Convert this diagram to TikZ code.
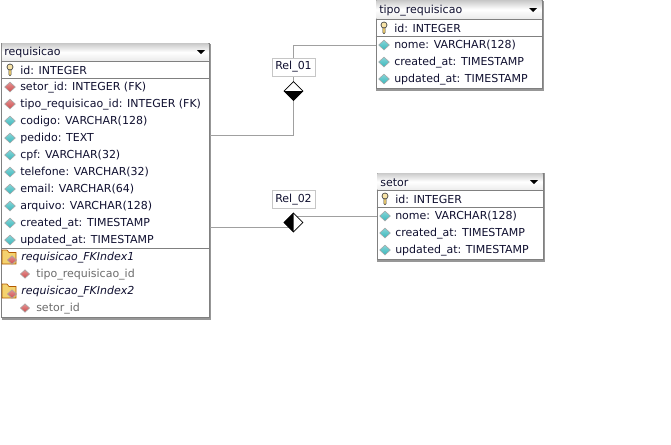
\documentclass[tikz,border=0pt]{standalone}
\usepackage{fontspec}
\setmainfont{DejaVu Sans}
\usepackage{xcolor}
\usepackage{tikz}
\usetikzlibrary{shapes.geometric, positioning}
\definecolor{edgegray}{HTML}{808080}
\definecolor{shadowgray}{HTML}{979797}
\definecolor{relgray}{HTML}{A0A0A0}
\definecolor{inkblue}{HTML}{101030}
\definecolor{attrteal}{HTML}{38B8BC}
\definecolor{fkred}{HTML}{D04C4C}
\definecolor{foldergold}{HTML}{F4D26E}
\begin{document}
\begin{tikzpicture}[
            x=0.75pt, y=-0.75pt,
            tbl/.style={rectangle, draw=edgegray, line width=0.75pt, fill=white, inner sep=0pt, anchor=north west},
            hdr/.style={rectangle, top color=gray!40, bottom color=gray!15, middle color=white, inner sep=0pt, anchor=north west},
            row/.style={anchor=west, inner sep=0pt, yshift=-0.4pt, font=\fontsize{8.25}{10}\selectfont, text=inkblue},
            idx/.style={row, font=\fontsize{8.25}{10}\selectfont\itshape},
            idc/.style={row, text=gray!85!black},
            attr/.style={diamond, draw=gray!70, top color=attrteal!60!white, bottom color=attrteal, inner sep=0pt, minimum width=8.2pt, minimum height=7.5pt, line width=0.4pt},
            fkey/.style={attr, top color=fkred!60!white, bottom color=fkred},
            tinyfk/.style={fkey, minimum width=7pt, minimum height=6.5pt},
            lab/.style={rectangle, draw=gray!45, fill=white, inner sep=0pt, minimum width=32pt, minimum height=13.5pt, font=\fontsize{8.25}{10}\selectfont, text=inkblue},
            rel/.style={draw=relgray, line width=0.75pt},
            rhomb/.style={diamond, draw=black, fill=white, inner sep=0pt, minimum width=14.25pt, minimum height=14.25pt, line width=0.5pt},
            keyicon/.pic={
                \draw[black!75, fill=foldergold, line width=0.4pt] (-1.2,-1) -- (1.2,-1) -- (1.2,4.5) -- (0,5.7) -- (-1.2,4.5) -- cycle;
                \draw[black!75, fill=foldergold!60!white, line width=0.5pt] (0,-3) circle (3);
            },
            foldicon/.pic={
                \draw[orange!70!black, fill=foldergold, line width=0.5pt] (-7,-7) -- (-2,-7) -- (0,-4.5) -- (7,-4.5) -- (7,7) -- (-7,7) -- cycle;
            }
            ]
            \useasboundingbox (0,0) rectangle (671,444);
            \fill[white] (0,0) rectangle (671,444);

            %% ---- Tables ----
            %% requisicao
            \fill[shadowgray] (2,44) rectangle (211,320);
            \node[tbl, minimum width=156pt, minimum height=205.5pt] (rbody) at (1,43) {};
            \node[hdr, minimum width=155pt, minimum height=12.5pt] (rhdr) at (1.5,43.5) {};
            \node[row] (rname) at (4,52) {requisicao};
            \fill[black] (197,50) -- (205,50) -- (201,54) -- cycle;
            \draw[edgegray] (rbody.west |- 0,61) -- (rbody.east |- 0,61);
            \draw[edgegray] (rbody.west |- 0,78) -- (rbody.east |- 0,78);
            \draw[edgegray] (rbody.west |- 0,248) -- (rbody.east |- 0,248);
            \pic at (10,70) {keyicon};
            \node[row] (rid) at (20,70) {id: INTEGER};
            \foreach \y/\t in {87/setor\_id: INTEGER (FK), 104/tipo\_requisicao\_id: INTEGER (FK)} {
                \node[fkey] (ri\y) at (10,\y) {};
                \node[row] (r\y) at (20,\y) {\t};
            }
            \foreach \y/\t in {121/codigo: VARCHAR(128), 138/pedido: TEXT, 155/cpf: VARCHAR(32),
                    172/telefone: VARCHAR(32), 189/email: VARCHAR(64), 206/arquivo: VARCHAR(128),
                    223/created\_at: TIMESTAMP, 240/updated\_at: TIMESTAMP} {
                \node[attr] (ri\y) at (10,\y) {};
                \node[row] (r\y) at (20,\y) {\t};
            }
            \pic at (9,257) {foldicon};
            \node[tinyfk] (rf1) at (12,260) {};
            \node[idx] (rx1) at (21,257) {requisicao\_FKIndex1};
            \node[tinyfk] (rc1) at (25,274) {};
            \node[idc] (rt1) at (36,274) {tipo\_requisicao\_id};
            \pic at (9,291) {foldicon};
            \node[tinyfk] (rf2) at (12,294) {};
            \node[idx] (rx2) at (21,291) {requisicao\_FKIndex2};
            \node[tinyfk] (rc2) at (25,308) {};
            \node[idc] (rt2) at (36,308) {setor\_id};

            %% tipo_requisicao
            \fill[shadowgray] (376,1) rectangle (544,91);
            \node[tbl, minimum width=125pt, minimum height=66pt] (tbody) at (375.5,0) {};
            \node[hdr, minimum width=124pt, minimum height=13pt] (thdr) at (376,0.5) {};
            \node[row] (tname) at (379,10) {tipo\_requisicao};
            \fill[black] (529,8) -- (537,8) -- (533,12) -- cycle;
            \draw[edgegray] (tbody.west |- 0,19) -- (tbody.east |- 0,19);
            \draw[edgegray] (tbody.west |- 0,36) -- (tbody.east |- 0,36);
            \pic at (384,28) {keyicon};
            \node[row] (tid) at (394,28) {id: INTEGER};
            \foreach \y/\t in {45/nome: VARCHAR(128), 62/created\_at: TIMESTAMP, 79/updated\_at: TIMESTAMP} {
                \node[attr] (ti\y) at (384,\y) {};
                \node[row] (t\y) at (394,\y) {\t};
            }

            %% setor
            \fill[shadowgray] (377,173) rectangle (545,262);
            \node[tbl, minimum width=125pt, minimum height=65pt] (sbody) at (376.5,172.5) {};
            \node[hdr, minimum width=124pt, minimum height=12.5pt] (shdr) at (377,173) {};
            \node[row] (sname) at (380,182) {setor};
            \fill[black] (530,180) -- (538,180) -- (534,184) -- cycle;
            \draw[edgegray] (sbody.west |- 0,190) -- (sbody.east |- 0,190);
            \draw[edgegray] (sbody.west |- 0,207) -- (sbody.east |- 0,207);
            \pic at (385,199) {keyicon};
            \node[row] (sid) at (395,199) {id: INTEGER};
            \foreach \y/\t in {216/nome: VARCHAR(128), 233/created\_at: TIMESTAMP, 250/updated\_at: TIMESTAMP} {
                \node[attr] (si\y) at (385,\y) {};
                \node[row] (s\y) at (395,\y) {\t};
            }

            %% ---- Relationships ----
            \coordinate (m1) at (293.5,91);
            \coordinate (m2) at (293.5,222.5);
            % requisicao to tipo_requisicao
            \draw[rel] (rbody.east |- 0,135) -| (m1);
            \draw[rel] (m1) |- (tbody.west |- t45);
            % requisicao to setor
            \draw[rel] (rbody.east |- 0,227.5) -- (m2 |- 0,227.5);
            \draw[rel] (m2 |- 0,216.5) -- (sbody.west |- 0,216.5);
            \node[rhomb] (d1) at (m1) {};
            \fill (d1.west) -- (d1.east) -- (d1.south) -- cycle;
            \node[rhomb] (d2) at (m2) {};
            \fill (d2.north) -- (d2.south) -- (d2.west) -- cycle;
            \node[lab] (l1) at (293.5,67) {Rel\_01};
            \node[lab] (l2) at (293.5,199.5) {Rel\_02};
        \end{tikzpicture}
\end{document}
